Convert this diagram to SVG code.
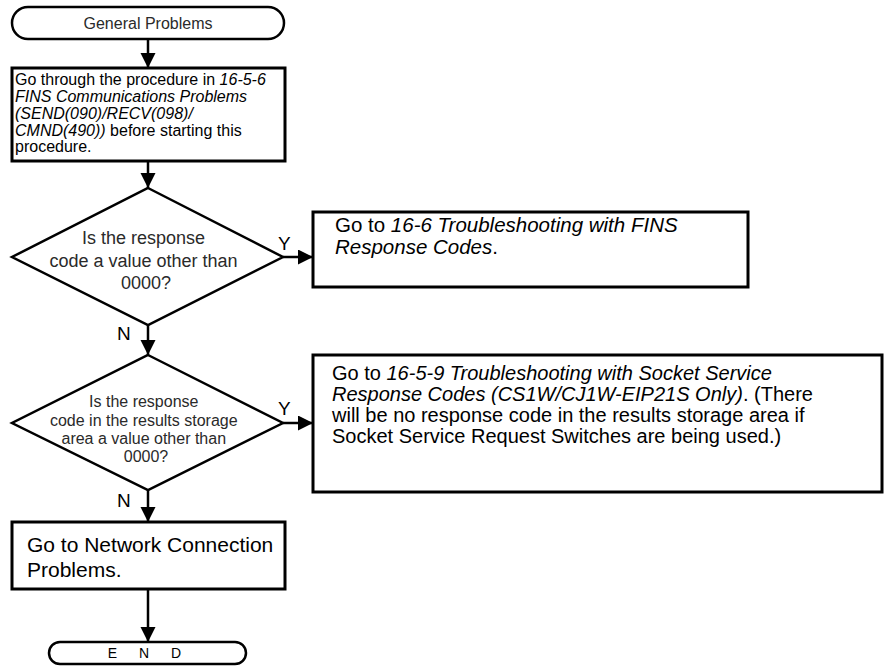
<svg xmlns="http://www.w3.org/2000/svg" width="889" height="666" viewBox="0 0 889 666">
<defs>
<style>
.t{font-family:"Liberation Sans",Arial,sans-serif;fill:#000}
.i{font-style:italic}
.g{fill:#2a2a2a}
.box{fill:#fff;stroke:#000;stroke-width:3}
.dia{fill:#fff;stroke:#000;stroke-width:2.5}
.term{fill:#fff;stroke:#000;stroke-width:2.5}
.ln{stroke:#000;stroke-width:2.5;fill:none}
</style>
<marker id="ah" markerUnits="userSpaceOnUse" markerWidth="16" markerHeight="16" refX="15" refY="7.5" orient="auto">
<path d="M0,0 L15,7.5 L0,15 z" fill="#000"/>
</marker>
</defs>
<rect width="889" height="666" fill="#fff"/>
<g id="connectors">
<line class="ln" x1="148" y1="39" x2="148" y2="68" marker-end="url(#ah)"/>
<line class="ln" x1="148" y1="161" x2="148" y2="188" marker-end="url(#ah)"/>
<line class="ln" x1="283" y1="257" x2="313" y2="257" marker-end="url(#ah)"/>
<line class="ln" x1="148" y1="325" x2="148" y2="355" marker-end="url(#ah)"/>
<line class="ln" x1="283" y1="423" x2="313" y2="423" marker-end="url(#ah)"/>
<line class="ln" x1="148" y1="490" x2="148" y2="522" marker-end="url(#ah)"/>
<line class="ln" x1="148" y1="589" x2="148" y2="642" marker-end="url(#ah)"/>
<text class="t" x="278" y="250" font-size="19">Y</text>
<text class="t" x="117" y="340" font-size="19">N</text>
<text class="t" x="278" y="415" font-size="19">Y</text>
<text class="t" x="117" y="507" font-size="19">N</text>
</g>
<g id="start">
<rect class="term" x="12" y="7" width="272" height="32" rx="16"/>
<text class="t g" x="148" y="29" font-size="16" text-anchor="middle">General Problems</text>
</g>
<g id="step1">
<rect class="box" x="12" y="68" width="273" height="93"/>
<text class="t" font-size="16">
<tspan x="15" y="85">Go through the procedure in <tspan class="i">16-5-6</tspan></tspan>
<tspan x="15" y="102" class="i">FINS Communications Problems</tspan>
<tspan x="15" y="118.5" class="i">(SEND(090)/RECV(098)/</tspan>
<tspan x="15" y="135.5"><tspan class="i">CMND(490))</tspan> before starting this</tspan>
<tspan x="15" y="152">procedure.</tspan>
</text>
</g>
<g id="decision1">
<polygon class="dia" points="148,188 283,257 148,325 12,257"/>
<text class="t g" font-size="18" text-anchor="middle">
<tspan x="146" y="244">Is the response</tspan>
<tspan x="146" y="267">code a value other than</tspan>
<tspan x="146" y="289">0000?</tspan>
</text>
</g>
<g id="fins">
<rect class="box" x="313" y="212" width="435" height="75"/>
<text class="t" font-size="20.5">
<tspan x="335" y="232">Go to <tspan class="i">16-6 Troubleshooting with FINS</tspan></tspan>
<tspan x="335" y="254"><tspan class="i">Response Codes</tspan>.</tspan>
</text>
</g>
<g id="decision2">
<polygon class="dia" points="148,355 283,423 148,490 12,423"/>
<text class="t g" font-size="16" text-anchor="middle">
<tspan x="146" y="407">Is the response</tspan>
<tspan x="146" y="426">code in the results storage</tspan>
<tspan x="146" y="444">area a value other than</tspan>
<tspan x="146" y="462">0000?</tspan>
</text>
</g>
<g id="socket">
<rect class="box" x="313" y="355" width="569" height="137"/>
<text class="t" font-size="20">
<tspan x="332" y="380">Go to <tspan class="i">16-5-9 Troubleshooting with Socket Service</tspan></tspan>
<tspan x="332" y="401"><tspan class="i">Response Codes (CS1W/CJ1W-EIP21S Only)</tspan>. (There</tspan>
<tspan x="332" y="422">will be no response code in the results storage area if</tspan>
<tspan x="332" y="443">Socket Service Request Switches are being used.)</tspan>
</text>
</g>
<g id="network">
<rect class="box" x="12" y="522" width="273" height="67"/>
<text class="t" font-size="21">
<tspan x="27" y="552">Go to Network Connection</tspan>
<tspan x="27" y="577">Problems.</tspan>
</text>
</g>
<g id="end">
<rect class="term" x="49" y="642" width="197" height="22" rx="11"/>
<text class="t" x="149" y="658" font-size="14" text-anchor="middle" letter-spacing="9">E N D</text>
</g>
</svg>
